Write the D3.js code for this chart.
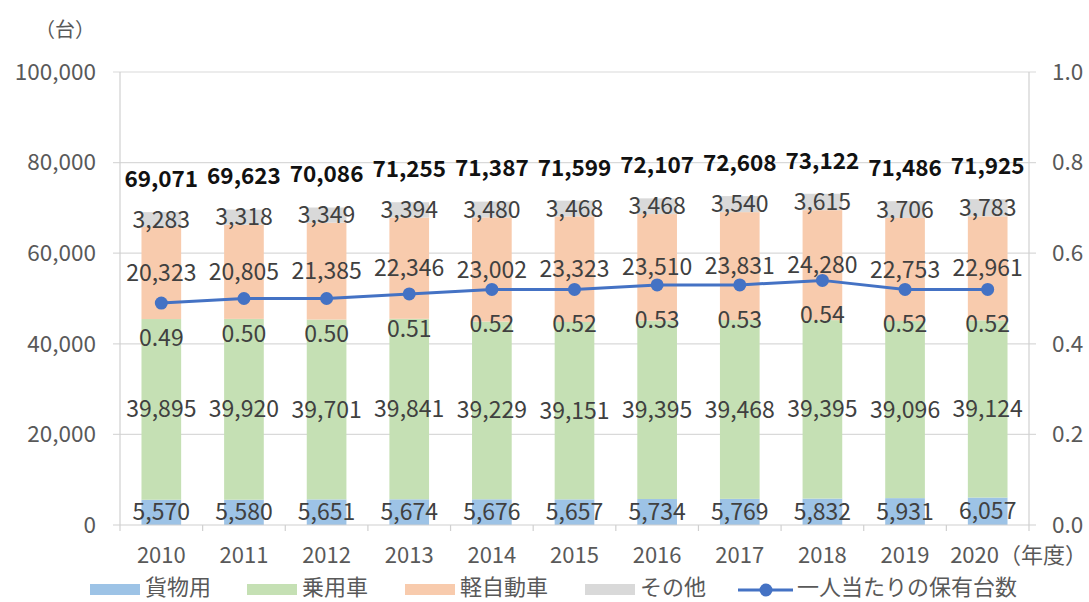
<!DOCTYPE html>
<html>
<head>
<meta charset="utf-8">
<script src="https://cdn.jsdelivr.net/npm/d3@7"></script>
<style>
  body { margin: 0; background: #fff; }
  text { font-family: "Noto Sans CJK JP", "Noto Sans", sans-serif; }
</style>
</head>
<body>
<svg width="1089" height="602"></svg>
<script>
// data
let years = ['2010', '2011', '2012', '2013', '2014', '2015', '2016', '2017', '2018', '2019', '2020'];
let cargo = [5570, 5580, 5651, 5674, 5676, 5657, 5734, 5769, 5832, 5931, 6057];
let passenger = [39895, 39920, 39701, 39841, 39229, 39151, 39395, 39468, 39395, 39096, 39124];
let kei = [20323, 20805, 21385, 22346, 23002, 23323, 23510, 23831, 24280, 22753, 22961];
let other = [3283, 3318, 3349, 3394, 3480, 3468, 3468, 3540, 3615, 3706, 3783];
let perPerson = [0.49, 0.50, 0.50, 0.51, 0.52, 0.52, 0.53, 0.53, 0.54, 0.52, 0.52];
let leftTicks = [0, 20000, 40000, 60000, 80000, 100000];
let rightTicks = [0, 0.2, 0.4, 0.6, 0.8, 1.0];
let yUnit = '（台）';
let xUnit = '（年度）';

let keys = ['貨物用', '乗用車', '軽自動車', 'その他'];
let seriesValues = [cargo, passenger, kei, other];
let colors = ['#9DC3E6', '#C5E0B4', '#F8CBAD', '#D9D9D9'];
let lineColor = '#4472C4';

let table = years.map((yr, i) => {
  let row = { year: yr };
  keys.forEach((k, j) => row[k] = seriesValues[j][i]);
  row.total = d3.sum(seriesValues, (s) => s[i]);
  row.rate = perPerson[i];
  return row;
});

let svg = d3.select('svg'),
  plotLeft = 120, plotRight = 1029, plotTop = 72, plotBottom = 525;

let x = d3.scaleBand().domain(years).range([plotLeft, plotRight]).paddingInner(0.52).paddingOuter(0.26);
let y = d3.scaleLinear().domain([0, 100000]).range([plotBottom, plotTop]);
let y2 = d3.scaleLinear().domain([0, 1]).range([plotBottom, plotTop]);
let fmt = d3.format(',');
let cx = (yr) => x(yr) + x.bandwidth() / 2;

// gridlines
svg.append('g')
  .selectAll('line')
  .data(leftTicks.slice(1))
  .join('line')
  .attr('x1', plotLeft - 7).attr('x2', plotRight + 7)
  .attr('y1', (d) => y(d)).attr('y2', (d) => y(d))
  .attr('stroke', '#D9D9D9').attr('stroke-width', 1.2);

// left & right axis lines
svg.append('line').attr('x1', plotLeft).attr('x2', plotLeft).attr('y1', plotTop).attr('y2', plotBottom)
  .attr('stroke', '#D0D0D0').attr('stroke-width', 1.2);
svg.append('line').attr('x1', plotRight).attr('x2', plotRight).attr('y1', plotTop).attr('y2', plotBottom)
  .attr('stroke', '#D0D0D0').attr('stroke-width', 1.2);

// y tick labels
svg.append('g')
  .selectAll('text')
  .data(leftTicks)
  .join('text')
  .attr('x', 96).attr('y', (d) => y(d))
  .attr('dy', '0.35em')
  .attr('text-anchor', 'end')
  .attr('font-size', 22.5)
  .attr('fill', '#595959')
  .text((d) => fmt(d));

svg.append('g')
  .selectAll('text')
  .data(rightTicks)
  .join('text')
  .attr('x', 1052).attr('y', (d) => y2(d))
  .attr('dy', '0.35em')
  .attr('font-size', 22.5)
  .attr('fill', '#595959')
  .text((d) => d3.format('.1f')(d));

svg.append('text').attr('x', 35).attr('y', 30).attr('dy', '0.35em')
  .attr('font-size', 20).attr('fill', '#595959')
  .text(yUnit);

// stacked bars
let stackData = d3.stack().keys(keys)(table);

let groups = svg.append('g')
  .selectAll('g')
  .data(stackData)
  .join('g')
  .attr('fill', (d, i) => colors[i]);

groups.selectAll('rect')
  .data((d) => d)
  .join('rect')
  .attr('x', (d) => x(d.data.year))
  .attr('width', x.bandwidth())
  .attr('y', (d) => y(d[1]))
  .attr('height', (d) => y(d[0]) - y(d[1]));

// baseline + category ticks
svg.append('line').attr('x1', plotLeft - 7).attr('x2', plotRight + 7).attr('y1', plotBottom).attr('y2', plotBottom)
  .attr('stroke', '#D0D0D0').attr('stroke-width', 1.2);
let step = x.step();
svg.append('g')
  .selectAll('line')
  .data(d3.range(years.length + 1))
  .join('line')
  .attr('x1', (i) => plotLeft + i * step).attr('x2', (i) => plotLeft + i * step)
  .attr('y1', plotBottom).attr('y2', plotBottom + 6)
  .attr('stroke', '#D0D0D0').attr('stroke-width', 1.2);

// category labels; the last one carries the unit and is pushed in from the edge
let last = years.length - 1;
svg.append('g')
  .selectAll('text')
  .data(years)
  .join('text')
  .attr('x', (d, i) => i === last ? 1087 : cx(d))
  .attr('y', 555).attr('dy', '0.35em')
  .attr('text-anchor', (d, i) => i === last ? 'end' : 'middle')
  .attr('font-size', 22)
  .attr('fill', '#595959')
  .text((d, i) => i === last ? d + xUnit : d);

// segment labels
groups.selectAll('text')
  .data((d) => d)
  .join('text')
  .attr('x', (d) => cx(d.data.year))
  .attr('y', (d) => y((d[0] + d[1]) / 2))
  .attr('dy', '0.35em')
  .attr('text-anchor', 'middle')
  .attr('font-size', 23)
  .attr('fill', '#404040')
  .text((d) => fmt(d[1] - d[0]));

// totals
svg.append('g')
  .selectAll('text')
  .data(table)
  .join('text')
  .attr('x', (d) => cx(d.year))
  .attr('y', (d) => y(d.total) - 33)
  .attr('dy', '0.35em')
  .attr('text-anchor', 'middle')
  .attr('font-size', 22.5)
  .attr('font-weight', 'bold')
  .attr('fill', '#111')
  .text((d) => fmt(d.total));

// per-person line
let line = d3.line()
  .x((d) => cx(d.year))
  .y((d) => y2(d.rate));

svg.append('path')
  .datum(table)
  .attr('d', line)
  .attr('fill', 'none')
  .attr('stroke', lineColor)
  .attr('stroke-width', 3);

svg.append('g')
  .selectAll('circle')
  .data(table)
  .join('circle')
  .attr('cx', (d) => cx(d.year))
  .attr('cy', (d) => y2(d.rate))
  .attr('r', 6.5)
  .attr('fill', lineColor);

svg.append('g')
  .selectAll('text')
  .data(table)
  .join('text')
  .attr('x', (d) => cx(d.year))
  .attr('y', (d) => y2(d.rate) + 35)
  .attr('dy', '0.35em')
  .attr('text-anchor', 'middle')
  .attr('font-size', 23)
  .attr('fill', '#404040')
  .text((d) => d3.format('.2f')(d.rate));

// legend
let legendX = [90, 247, 405, 585];
let legend = svg.append('g');
keys.forEach((k, i) => {
  legend.append('rect')
    .attr('x', legendX[i]).attr('y', 584)
    .attr('width', 50).attr('height', 11)
    .attr('fill', colors[i]);
  legend.append('text')
    .attr('x', legendX[i] + 55).attr('y', 595)
    .attr('font-size', 22).attr('fill', '#595959')
    .text(k);
});
legend.append('line').attr('x1', 738).attr('x2', 793).attr('y1', 590).attr('y2', 590)
  .attr('stroke', lineColor).attr('stroke-width', 3);
legend.append('circle').attr('cx', 766).attr('cy', 590).attr('r', 6.5).attr('fill', lineColor);
legend.append('text').attr('x', 797).attr('y', 595)
  .attr('font-size', 22).attr('fill', '#595959').text('一人当たりの保有台数');
</script>
</body>
</html>
